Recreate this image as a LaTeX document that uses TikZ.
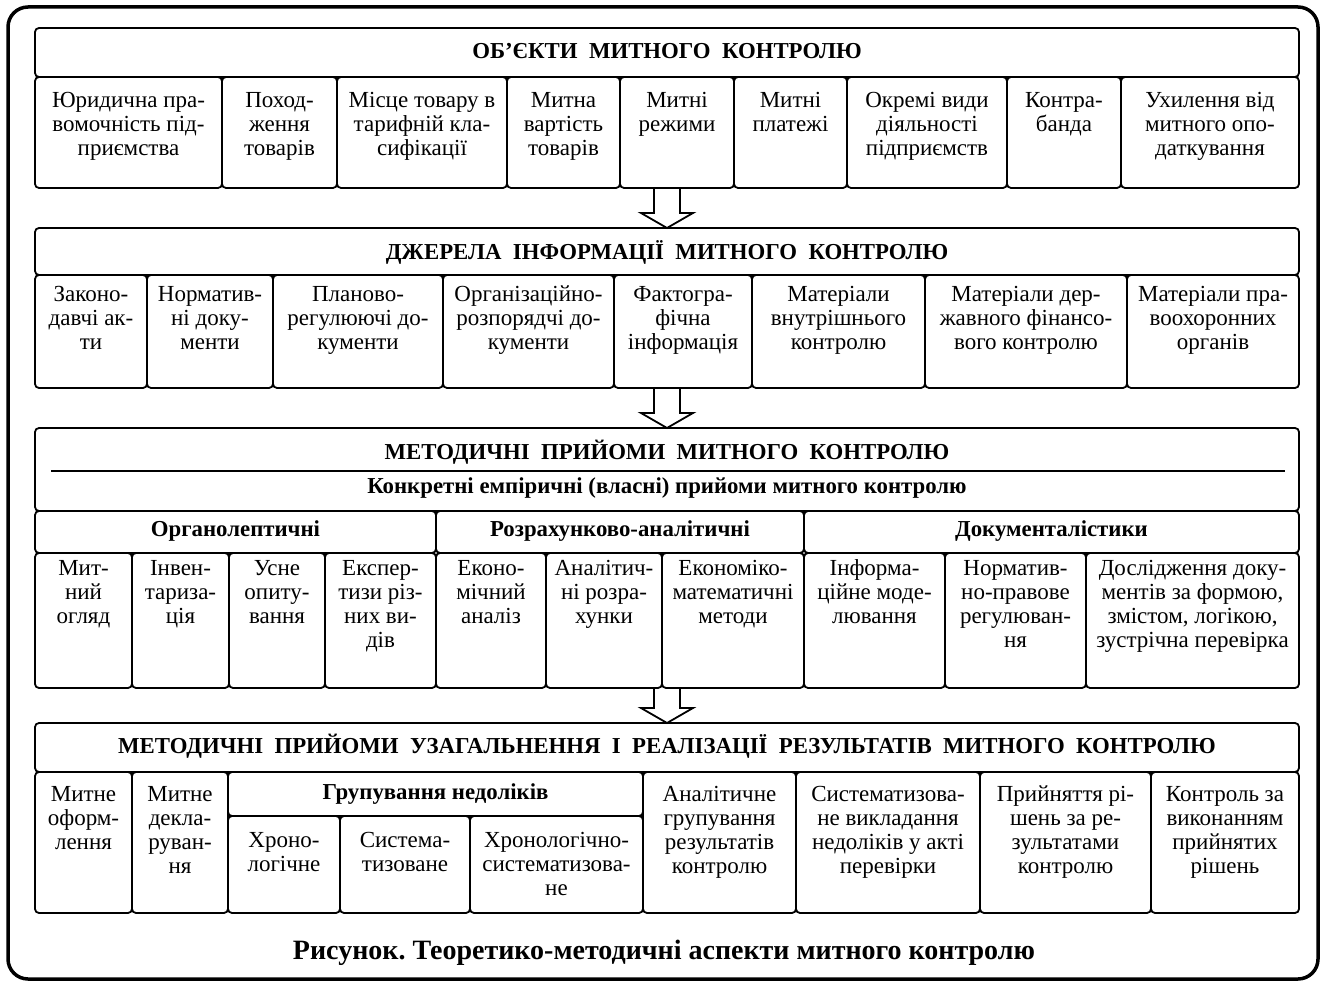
\documentclass[tikz,border=0pt]{standalone}
\usepackage{fontspec}
\setmainfont{Liberation Serif}
\usetikzlibrary{calc}
\frenchspacing
\newcommand\bodyfnt{\fontsize{23}{24}\selectfont\lineskiplimit=-100pt\lineskip=0pt\relax}
\newcommand\headfnt{\fontsize{22.8}{24}\selectfont\bfseries}
\newcommand\subfnt{\fontsize{22.8}{24}\selectfont\bfseries}
\newcommand\capfnt{\fontsize{28}{30}\selectfont\bfseries}
\tikzset{
  outerframe/.style={draw, line width=3.5pt, rounded corners=20pt},
  cellbox/.style={draw, line width=1.8pt, rounded corners=4pt},
  rule/.style={draw, line width=1.4pt},
  txt/.style={anchor=north, align=center, inner sep=0pt, font=\bodyfnt},
  head/.style={anchor=center, inner sep=0pt, font=\headfnt},
  subhead/.style={anchor=center, inner sep=0pt, font=\subfnt},
  captxt/.style={anchor=center, inner sep=0pt, font=\capfnt},
  blockarrow/.style={draw, line width=1.8pt, line join=miter},
}
\newcommand\cbox[4]{\draw[cellbox] (#1,#2) rectangle (#3,#4);}
\newcommand\ctext[5]{\node[txt] (#1) at ({(#2+#3)/2},{#4-9.8}) {\strut #5};}
\newcommand\barrow[2]{\draw[blockarrow] ($(#1)+(-13,0)$) |- ($(#2)+(-26,-15)$) -- (#2) -- ($(#2)+(26,-15)$) -| ($(#1)+(13,0)$);}
\begin{document}
\begin{tikzpicture}[x=1pt,y=-1pt]
\useasboundingbox (0,0) rectangle (1324,981);
\draw[outerframe] (8,7) rectangle (1318,979);

% ---------- Box 1 ----------
\cbox{35}{28}{1299}{77}
\node[head] (t1) at (667,51) {ОБ’ЄКТИ\ \ МИТНОГО\ \ КОНТРОЛЮ};
\cbox{35}{77}{222}{188}    \ctext{o1}{35}{222}{100}{Юридична пра-\\вомочність під-\\приємства}
\cbox{222}{77}{337}{188}   \ctext{o2}{222}{337}{100}{Поход-\\ження\\товарів}
\cbox{337}{77}{507}{188}   \ctext{o3}{337}{507}{100}{Місце товару в\\тарифній кла-\\сифікації}
\cbox{507}{77}{620}{188}   \ctext{o4}{507}{620}{100}{Митна\\вартість\\товарів}
\cbox{620}{77}{734}{188}   \ctext{o5}{620}{734}{100}{Митні\\режими}
\cbox{734}{77}{847}{188}   \ctext{o6}{734}{847}{100}{Митні\\платежі}
\cbox{847}{77}{1007}{188}  \ctext{o7}{847}{1007}{100}{Окремі види\\діяльності\\підприємств}
\cbox{1007}{77}{1121}{188} \ctext{o8}{1007}{1121}{100}{Контра-\\банда}
\cbox{1121}{77}{1299}{188} \ctext{o9}{1121}{1299}{100}{Ухилення від\\митного опо-\\даткування}

% ---------- Box 2 ----------
\cbox{35}{228}{1299}{275}
\node[head] (t2) at (667,252) {ДЖЕРЕЛА\ \ ІНФОРМАЦІЇ\ \ МИТНОГО\ \ КОНТРОЛЮ};
\cbox{35}{275}{147}{388}    \ctext{d1}{35}{147}{294}{Законо-\\давчі ак-\\ти}
\cbox{147}{275}{273}{388}   \ctext{d2}{147}{273}{294}{Норматив-\\ні доку-\\менти}
\cbox{273}{275}{443}{388}   \ctext{d3}{273}{443}{294}{Планово-\\регулюючі до-\\кументи}
\cbox{443}{275}{614}{388}   \ctext{d4}{443}{614}{294}{Організаційно-\\розпорядчі до-\\кументи}
\cbox{614}{275}{752}{388}   \ctext{d5}{614}{752}{294}{Фактогра-\\фічна\\інформація}
\cbox{752}{275}{925}{388}   \ctext{d6}{752}{925}{294}{Матеріали\\внутрішнього\\контролю}
\cbox{925}{275}{1127}{388}  \ctext{d7}{925}{1127}{294}{Матеріали дер-\\жавного фінансо-\\вого контролю}
\cbox{1127}{275}{1299}{388} \ctext{d8}{1127}{1299}{294}{Матеріали пра-\\воохоронних\\органів}

% ---------- Box 3 ----------
\cbox{35}{428}{1299}{511}
\node[head] (t3) at (667,452) {МЕТОДИЧНІ\ \ ПРИЙОМИ\ \ МИТНОГО\ \ КОНТРОЛЮ};
\draw[rule] (51,471) -- (1285,471);
\node[subhead] (t3s) at (667,488) {Конкретні емпіричні (власні) прийоми митного контролю};
\cbox{35}{511}{436}{553}   \node[subhead] (g1) at (235.5,531) {Органолептичні};
\cbox{436}{511}{804}{553}  \node[subhead] (g2) at (620,531) {Розрахунково-аналітичні};
\cbox{804}{511}{1299}{553} \node[subhead] (g3) at (1051.5,531) {Документалістики};
\cbox{35}{553}{132}{688}    \ctext{m1}{35}{132}{568}{Мит-\\ний\\огляд}
\cbox{132}{553}{229}{688}   \ctext{m2}{132}{229}{568}{Інвен-\\тариза-\\ція}
\cbox{229}{553}{325}{688}   \ctext{m3}{229}{325}{568}{Усне\\опиту-\\вання}
\cbox{325}{553}{436}{688}   \ctext{m4}{325}{436}{568}{Експер-\\тизи різ-\\них ви-\\дів}
\cbox{436}{553}{546}{688}   \ctext{m5}{436}{546}{568}{Еконо-\\мічний\\аналіз}
\cbox{546}{553}{662}{688}   \ctext{m6}{546}{662}{568}{Аналітич-\\ні розра-\\хунки}
\cbox{662}{553}{804}{688}   \ctext{m7}{662}{804}{568}{Економіко-\\математичні\\методи}
\cbox{804}{553}{945}{688}   \ctext{m8}{804}{945}{568}{Інформа-\\ційне моде-\\лювання}
\cbox{945}{553}{1086}{688}  \ctext{m9}{945}{1086}{568}{Норматив-\\но-правове\\регулюван-\\ня}
\cbox{1086}{553}{1299}{688} \ctext{m10}{1086}{1299}{568}{Дослідження доку-\\ментів за формою,\\змістом, логікою,\\зустрічна перевірка}

% ---------- Box 4 ----------
\cbox{35}{723}{1299}{772}
\node[head] (t4) at (667,746) {МЕТОДИЧНІ\ \ ПРИЙОМИ\ \ УЗАГАЛЬНЕННЯ\ \ І\ \ РЕАЛІЗАЦІЇ\ \ РЕЗУЛЬТАТІВ\ \ МИТНОГО\ \ КОНТРОЛЮ};
\cbox{35}{772}{132}{913}    \ctext{r1}{35}{132}{794}{Митне\\оформ-\\лення}
\cbox{132}{772}{228}{913}   \ctext{r2}{132}{228}{794}{Митне\\декла-\\руван-\\ня}
\cbox{228}{772}{643}{816}   \node[subhead] (g4) at (435.5,794) {Групування недоліків};
\cbox{228}{816}{340}{913}   \ctext{r3}{228}{340}{840}{Хроно-\\логічне}
\cbox{340}{816}{470}{913}   \ctext{r4}{340}{470}{840}{Система-\\тизоване}
\cbox{470}{816}{643}{913}   \ctext{r5}{470}{643}{840}{Хронологічно-\\систематизова-\\не}
\cbox{643}{772}{796}{913}   \ctext{r6}{643}{796}{794}{Аналітичне\\групування\\результатів\\контролю}
\cbox{796}{772}{980}{913}   \ctext{r7}{796}{980}{794}{Систематизова-\\не викладання\\недоліків у акті\\перевірки}
\cbox{980}{772}{1151}{913}  \ctext{r8}{980}{1151}{794}{Прийняття рі-\\шень за ре-\\зультатами\\контролю}
\cbox{1151}{772}{1299}{913} \ctext{r9}{1151}{1299}{794}{Контроль за\\виконанням\\прийнятих\\рішень}

% ---------- Arrows ----------
\coordinate (a1s) at (667,188); \coordinate (a1e) at (667,228);
\coordinate (a2s) at (667,388); \coordinate (a2e) at (667,428);
\coordinate (a3s) at (667,688); \coordinate (a3e) at (667,723);
\barrow{a1s}{a1e}
\barrow{a2s}{a2e}
\barrow{a3s}{a3e}

% ---------- Caption ----------
\node[captxt] (cap) at (664,953) {Рисунок. Теоретико-методичні аспекти митного контролю};
\end{tikzpicture}
\end{document}
